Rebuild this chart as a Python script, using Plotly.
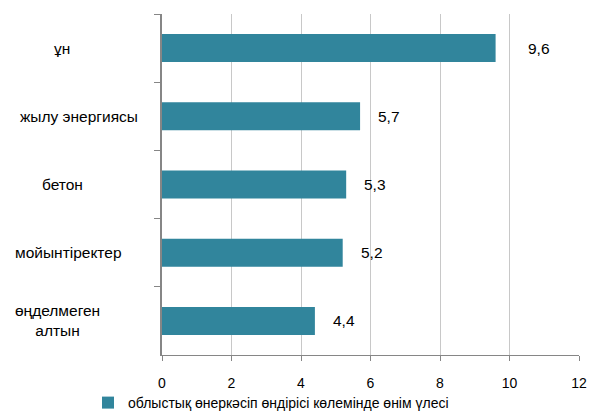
import plotly.graph_objects as go

categories = ["ұн", "жылу энергиясы", "бетон", "мойынтіректер", "өңделмеген<br>алтын"]
values = [9.6, 5.7, 5.3, 5.2, 4.4]
labels = ["9,6", "5,7", "5,3", "5,2", "4,4"]
series_name = "облыстық өнеркәсіп өндірісі көлемінде өнім үлесі"

color = "#31859C"
label_shift = [30, 16, 16, 16, 16]        # px gap between bar end and value label
cat_center = [62, 79, 62, 68, 57]         # px centre of category labels

W, H = 589, 418
L, R, T, B = 162, 10, 14, 63

fig = go.Figure()
fig.add_trace(go.Bar(
    y=categories, x=values, orientation="h", name=series_name,
    marker=dict(color=color, line=dict(width=0)), width=0.41,
))
for c, v, t, s in zip(categories, values, labels, label_shift):
    fig.add_annotation(x=v, y=c, text=t, showarrow=False, xanchor="left",
                       xshift=s, font=dict(size=15.5, color="#000000"))
for c, cx in zip(categories, cat_center):
    fig.add_annotation(xref="paper", x=0, xshift=-(L - cx), xanchor="center",
                       y=c, text=c, showarrow=False, align="center",
                       font=dict(size=15.5, color="#000000"))

fig.update_layout(
    width=W, height=H,
    margin=dict(l=L, r=R, t=T, b=B, autoexpand=False),
    paper_bgcolor="white", plot_bgcolor="white",
    font=dict(family="Liberation Sans, Arial", size=14, color="#000000"),
    showlegend=True,
    legend=dict(orientation="h", xref="container", yref="container",
                x=88 / W, xanchor="left",
                y=(H - 403) / H, yanchor="middle",
                font=dict(size=14), itemwidth=30,
                bgcolor="rgba(0,0,0,0)"),
    xaxis=dict(range=[0, 12], dtick=2, showgrid=True, gridcolor="#C8C8C8", gridwidth=1,
               zeroline=False, showline=True, linecolor="#868686", linewidth=1,
               ticks="outside", ticklen=5, tickcolor="#868686", ticklabelstandoff=10,
               tickfont=dict(size=14), automargin=False, ticklabeloverflow="allow"),
    yaxis=dict(autorange="reversed", showline=True, linecolor="#868686", linewidth=2,
               ticks="outside", ticklen=6, tickcolor="#868686", tickson="boundaries",
               showgrid=False, showticklabels=False, automargin=False),
)
fig.write_html("out.html", config={"displayModeBar": False},
               post_script="document.body.style.margin='0';document.body.style.overflow='hidden';")
